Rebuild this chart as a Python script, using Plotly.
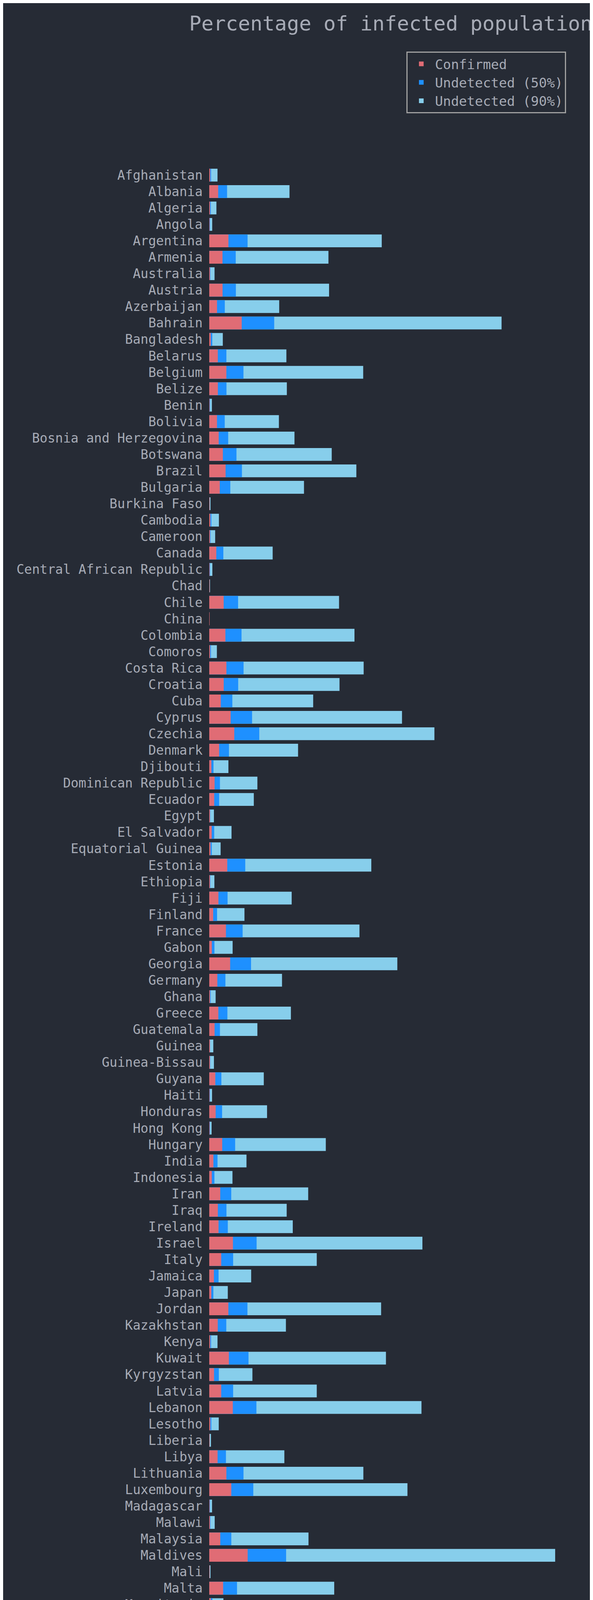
import plotly.graph_objects as go

countries = [
    "Afghanistan", "Albania", "Algeria", "Angola", "Argentina", "Armenia", "Australia", "Austria",
    "Azerbaijan", "Bahrain", "Bangladesh", "Belarus", "Belgium", "Belize", "Benin", "Bolivia",
    "Bosnia and Herzegovina", "Botswana", "Brazil", "Bulgaria", "Burkina Faso", "Cambodia",
    "Cameroon", "Canada", "Central African Republic", "Chad", "Chile", "China", "Colombia",
    "Comoros", "Costa Rica", "Croatia", "Cuba", "Cyprus", "Czechia", "Denmark", "Djibouti",
    "Dominican Republic", "Ecuador", "Egypt", "El Salvador", "Equatorial Guinea", "Estonia",
    "Ethiopia", "Fiji", "Finland", "France", "Gabon", "Georgia", "Germany", "Ghana", "Greece",
    "Guatemala", "Guinea", "Guinea-Bissau", "Guyana", "Haiti", "Honduras", "Hong Kong", "Hungary",
    "India", "Indonesia", "Iran", "Iraq", "Ireland", "Israel", "Italy", "Jamaica", "Japan",
    "Jordan", "Kazakhstan", "Kenya", "Kuwait", "Kyrgyzstan", "Latvia", "Lebanon", "Lesotho",
    "Liberia", "Libya", "Lithuania", "Luxembourg", "Madagascar", "Malawi", "Malaysia", "Maldives",
    "Mali", "Malta", "Mauritania", "Mexico", "Moldova", "Mongolia", "Morocco", "Mozambique",
    "Namibia", "Nepal", "Netherlands", "Nicaragua", "Niger", "Nigeria", "Norway", "Oman",
    "Pakistan", "Panama", "Papua New Guinea", "Paraguay", "Peru", "Philippines", "Poland",
    "Portugal", "Qatar", "Romania", "Russia", "Rwanda", "Saint Lucia", "Saudi Arabia", "Senegal",
    "Serbia", "Seychelles", "Sierra Leone", "Slovakia", "Slovenia", "Somalia", "South Africa",
    "South Korea", "South Sudan", "Spain", "Sri Lanka", "Sudan", "Suriname", "Sweden",
    "Switzerland", "Syria", "Tajikistan", "Thailand", "Togo", "Trinidad and Tobago", "Tunisia",
    "Turkey", "US", "Uganda", "Ukraine", "United Arab Emirates", "United Kingdom", "Uruguay",
    "Uzbekistan", "Venezuela", "Vietnam", "Yemen", "Zambia", "Zimbabwe",
]

# infected share (%) if 90% of cases go undetected
infected_90 = [
    5.3, 51.5, 4.6, 1.9, 110.7, 76.5, 3.4, 76.9, 44.9, 187.6, 8.7, 49.5, 98.8, 49.8, 1.7, 44.7,
    54.7, 78.6, 94.4, 60.8, 0.8, 6.2, 3.8, 40.7, 2.0, 0.3, 83.3, 0.1, 93.2, 4.9, 99.1, 83.6,
    66.7, 123.7, 144.5, 57.0, 12.3, 30.9, 28.6, 3.0, 14.3, 7.3, 104.0, 3.3, 52.9, 22.6, 96.4,
    15.0, 120.7, 46.7, 4.1, 52.4, 30.9, 2.6, 3.0, 35.0, 1.8, 37.1, 1.5, 74.8, 23.9, 14.9, 63.5,
    49.7, 53.6, 136.8, 69.0, 26.9, 11.9, 110.3, 49.2, 5.3, 113.4, 27.7, 69.0, 136.2, 6.1, 1.1,
    48.2, 98.9, 127.2, 1.8, 3.5, 63.7, 222.0, 0.8, 80.2, 9.1, 27.1, 72.5, 86.6, 24.9, 5.3, 54.3,
    25.7, 108.4, 2.0, 0.2, 1.1, 32.4, 66.7, 5.8, 112.9, 2.3, 60.0, 63.5, 21.6, 67.8, 91.6, 93.6,
    52.9, 44.7, 7.8, 53.2, 15.8, 4.9, 111.9, 212.3, 0.8, 67.5, 125.4, 1.5, 48.2, 5.3, 0.8, 95.9,
    22.6, 0.8, 66.0, 106.4, 91.6, 1.2, 1.8, 21.1, 3.0, 33.4, 57.8, 81.8, 120.4, 3.0, 52.0, 70.1,
    106.8, 102.6, 5.0, 10.6, 7.3, 0.2, 12.7, 8.8,
]

# on the chart the 50% bar ends at 2/9 and confirmed at 1/9 of the 90% bar
confirmed = [v / 9 for v in infected_90]
infected_50 = [v * 2 / 9 for v in infected_90]

BG = "#262b35"
FG = "#a7abb6"
FONT = "DejaVu Sans Mono"

fig = go.Figure()
fig.add_trace(go.Bar(y=countries, x=infected_90, orientation="h", name="Undetected (90%)",
                     marker=dict(color="#87ceeb", line=dict(width=0)), width=0.78))
fig.add_trace(go.Bar(y=countries, x=infected_50, orientation="h", name="Undetected (50%)",
                     marker=dict(color="#1e90ff", line=dict(width=0)), width=0.78))
fig.add_trace(go.Bar(y=countries, x=confirmed, orientation="h", name="Confirmed",
                     marker=dict(color="#e06c75", line=dict(width=0)), width=0.78))

n = len(countries)
fig.update_layout(
    width=1519, height=7181,
    barmode="overlay",
    paper_bgcolor=BG, plot_bgcolor=BG,
    font=dict(family=FONT, color=FG, size=33),
    margin=dict(l=528, r=61, t=108, b=141),
    title=dict(text="Percentage of infected population", x=0.5, xref="paper", xanchor="center",
               y=1 - 52 / 7181, yanchor="middle", font=dict(size=52, color=FG)),
    legend=dict(x=0.983, y=0.9977, xanchor="right", yanchor="top", traceorder="reversed",
                bgcolor=BG, bordercolor="#a0a0a0", borderwidth=3,
                font=dict(size=34, color=FG), itemwidth=60),
    xaxis=dict(range=[0, 233], tickvals=[0, 50, 100, 150, 200], showgrid=False, zeroline=False,
               showline=False, ticks="", tickfont=dict(size=33),
               title=dict(text="Infected [%]", font=dict(size=52), standoff=20)),
    yaxis=dict(categoryorder="array", categoryarray=countries, range=[n - 1 + 7.9, -7.9],
               showgrid=False, zeroline=False, showline=False, ticks="",
               tickfont=dict(size=33), ticklabelstandoff=16),
    bargap=0.2,
)

fig.write_html("out.html")
